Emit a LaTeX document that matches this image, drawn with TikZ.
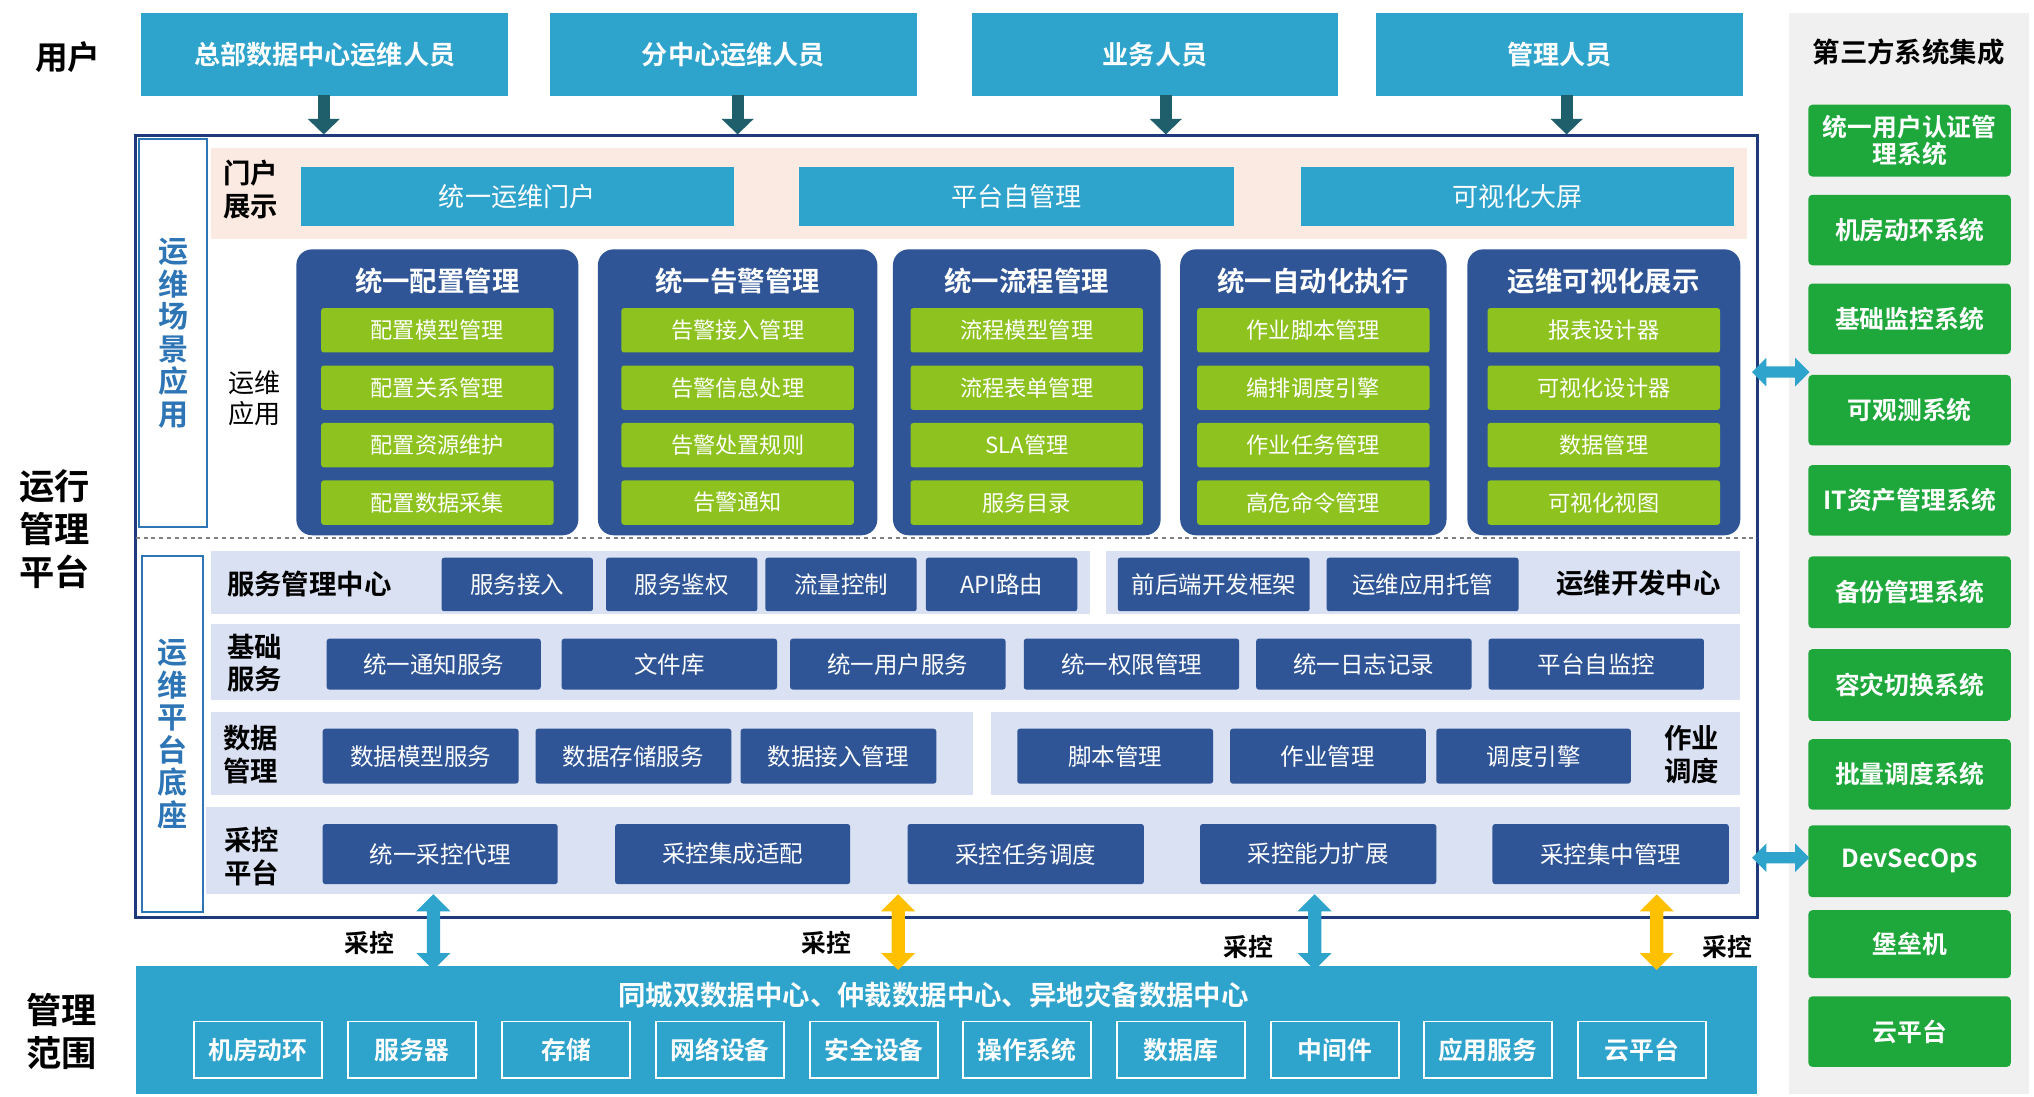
\documentclass[tikz,border=0pt]{standalone}
\usepackage{fontspec}
\setmainfont{Noto Sans CJK SC}
\newfontfamily\bfcjk{Noto Sans CJK SC Bold}
\usetikzlibrary{arrows.meta,shapes.arrows}
\definecolor{teal}{HTML}{2EA3CC}
\definecolor{navy}{HTML}{2F5597}
\definecolor{frame}{HTML}{1F3A7A}
\definecolor{lgreen}{HTML}{8DC21F}
\definecolor{dgreen}{HTML}{1EA83C}
\definecolor{panel}{HTML}{D9E1F2}
\definecolor{pinkbg}{HTML}{FBEAE2}
\definecolor{darr}{HTML}{1F5F6B}
\definecolor{yel}{HTML}{FFC000}
\definecolor{vblue}{HTML}{2E75B6}
\tikzset{
 bold/.style={font=\bfcjk\fontsize{#1}{#1}\selectfont},
 lab/.style={align=center,text=black,font=\bfcjk\fontsize{21}{25}\selectfont,inner sep=0pt},
 dbl/.style={draw=none,fill=#1,double arrow,double arrow head extend=5pt,minimum height=58pt,minimum width=26pt,inner sep=3pt},
}
\begin{document}
\begin{tikzpicture}[x=1pt,y=-1pt]
\useasboundingbox (0,0) rectangle (1558,840);
\fill[white] (0,0) rectangle (1558,840);
% users
\node[lab,font=\bfcjk\fontsize{25}{25}\selectfont] (uh) at (52,44) {用户};
\foreach \a/\b/\t [count=\i] in {108/389/总部数据中心运维人员,421/702/分中心运维人员,744/1025/业务人员,1054/1335/管理人员}{
 \node[fill=teal,text=white,bold=20,minimum width=\b-\a,minimum height=63,inner sep=0,anchor=north west] (u\i) at (\a,10) {\t};}
\foreach \x [count=\i] in {248,565,893,1200}{
 \coordinate (ua\i) at (\x,103);
 \draw[darr,line width=9pt,-{Triangle[length=12pt,width=24pt]}] (\x,73) -- (ua\i);}
% right panel
\fill[black!6] (1370,10) rectangle (1554,838);
\node[lab,font=\bfcjk\fontsize{21}{24}\selectfont] (th) at (1462,40) {第三方系统集成};
\foreach \a/\b/\t [count=\i] in {80/135/{统一用户认证管\\理系统},149/203/机房动环系统,217/271/基础监控系统,287/341/可观测系统,356/410/IT资产管理系统,426/481/备份管理系统,497/552/容灾切换系统,566/620/批量调度系统,632/687/DevSecOps,697/749/堡垒机,763/817/云平台}{
 \node[fill=dgreen,rounded corners=3pt,text=white,font=\bfcjk\fontsize{19}{21}\selectfont,align=center,minimum width=155,minimum height=\b-\a,inner sep=0,anchor=north west,text width=155] (r\i) at (1385,\a) {\t};}
% main frame
\draw[frame,line width=2.5pt] (104,104) rectangle (1346,703);
\node[draw=vblue,line width=1.5pt,minimum width=52,minimum height=297,anchor=north west] (vl1) at (106,106) {};
\node[text=vblue,font=\bfcjk\fontsize{23}{25}\selectfont,align=center] at (vl1.center) {运\\维\\场\\景\\应\\用};
\node[draw=vblue,line width=1.5pt,minimum width=47,minimum height=273,anchor=north west] (vl2) at (108,425) {};
\node[text=vblue,font=\bfcjk\fontsize{23}{25}\selectfont,align=center] at (vl2.center) {运\\维\\平\\台\\底\\座};
\draw[gray,dashed,line width=1pt] (104,412) -- (1346,412);
% portal
\fill[pinkbg] (162,113) rectangle (1338,183);
\node[lab] (pl) at (192,145) {门户\\展示};
\foreach \a/\b/\t [count=\i] in {230/562/统一运维门户,612/945/平台自管理,996/1328/可视化大屏}{
 \node[fill=teal,text=white,font=\fontsize{20}{22}\selectfont,minimum width=\b-\a,minimum height=45,inner sep=0,anchor=north west] (p\i) at (\a,128) {\t};}
\node[align=center,font=\fontsize{20}{24}\selectfont,inner sep=0] (yl) at (195,305) {运维\\应用};
% groups
\foreach \a/\b/\t/\la/\lb/\lc/\ld [count=\i] in {
 227/443/统一配置管理/配置模型管理/配置关系管理/配置资源维护/配置数据采集,
 458/672/统一告警管理/告警接入管理/告警信息处理/告警处置规则/告警通知,
 684/889/统一流程管理/流程模型管理/流程表单管理/SLA管理/服务目录,
 904/1108/统一自动化执行/作业脚本管理/编排调度引擎/作业任务管理/高危命令管理,
 1124/1333/运维可视化展示/报表设计器/可视化设计器/数据管理/可视化视图}{
 \fill[navy,rounded corners=12pt] (\a,191) rectangle (\b,410);
 \node[text=white,bold=21] (g\i) at ({(\a+\b)/2},215) {\t};
 \foreach \y/\s [count=\j] in {253/\la,297/\lb,341/\lc,385/\ld}{
  \node[fill=lgreen,text=white,font=\fontsize{17}{19}\selectfont,minimum width=178,minimum height=34,inner sep=0,rounded corners=2pt] (g\i i\j) at ({(\a+\b)/2},\y) {\s};}
}
% platform rows
\fill[panel] (162,422) rectangle (835,470);
\fill[panel] (847,422) rectangle (1333,470);
\fill[panel] (162,478) rectangle (1333,536);
\fill[panel] (162,545) rectangle (745,609);
\fill[panel] (759,545) rectangle (1333,609);
\fill[panel] (158,618) rectangle (1333,685);
\node[lab] (l1) at (237,447) {服务管理中心};
\node[lab] (l2) at (1255,447) {运维开发中心};
\node[lab] (l3) at (195,508) {基础\\服务};
\node[lab] (l4) at (192,578) {数据\\管理};
\node[lab] (l5) at (1296,578) {作业\\调度};
\node[lab] (l6) at (193,656) {采控\\平台};
\tikzset{nb/.style={fill=navy,text=white,font=\fontsize{18}{20}\selectfont,inner sep=0,anchor=north west,rounded corners=2pt}}
\foreach \a/\b/\t [count=\i] in {338/454/服务接入,464/580/服务鉴权,586/702/流量控制,709/825/API路由,856/1003/前后端开发框架,1016/1163/运维应用托管}
 \node[nb,minimum width=\b-\a,minimum height=41] (s\i) at (\a,427) {\t};
\foreach \a/\b/\t [count=\i] in {250/414/统一通知服务,430/595/文件库,605/770/统一用户服务,784/949/统一权限管理,962/1127/统一日志记录,1140/1305/平台自监控}
 \node[nb,minimum width=\b-\a,minimum height=39] (b\i) at (\a,489) {\t};
\foreach \a/\b/\t [count=\i] in {247/397/数据模型服务,410/560/数据存储服务,567/717/数据接入管理,779/929/脚本管理,942/1092/作业管理,1100/1249/调度引擎}
 \node[nb,minimum width=\b-\a,minimum height=42] (d\i) at (\a,558) {\t};
\foreach \a/\b/\t [count=\i] in {247/427/统一采控代理,471/651/采控集成适配,695/876/采控任务调度,919/1100/采控能力扩展,1143/1324/采控集中管理}
 \node[nb,minimum width=\b-\a,minimum height=46] (c\i) at (\a,631) {\t};
% bottom
\fill[teal] (104,740) rectangle (1346,838);
\node[text=white,bold=21] (bt) at (715,762) {同城双数据中心、仲裁数据中心、异地灾备数据中心};
\foreach \a/\t [count=\i] in {148/机房动环,266/服务器,384/存储,502/网络设备,620/安全设备,737/操作系统,855/数据库,973/中间件,1090/应用服务,1208/云平台}
 \node[draw=white,line width=1.2pt,text=white,bold=19,minimum width=98,minimum height=43,inner sep=0,anchor=north west] (m\i) at (\a,782) {\t};
\node[lab,font=\bfcjk\fontsize{27}{33}\selectfont] (run) at (42,405) {运行\\管理\\平台};
\node[lab,font=\bfcjk\fontsize{27}{33}\selectfont] (gl) at (47,790) {管理\\范围};
% vertical double arrows
\foreach \x/\c [count=\i] in {332/teal,688/yel,1007/teal,1269/yel}
 \node[dbl=\c,rotate=90] (va\i) at (\x,714) {};
\foreach \x/\y [count=\i] in {283/722,633/722,956/725,1323/725}
 \node[lab,font=\bfcjk\fontsize{19}{20}\selectfont] (cl\i) at (\x,\y) {采控};
% horizontal arrows
\node[dbl=teal,minimum height=44pt,minimum width=22pt] (ha1) at (1364,285) {};
\node[dbl=teal,minimum height=44pt,minimum width=22pt] (ha2) at (1364,657) {};
\end{tikzpicture}
\end{document}
